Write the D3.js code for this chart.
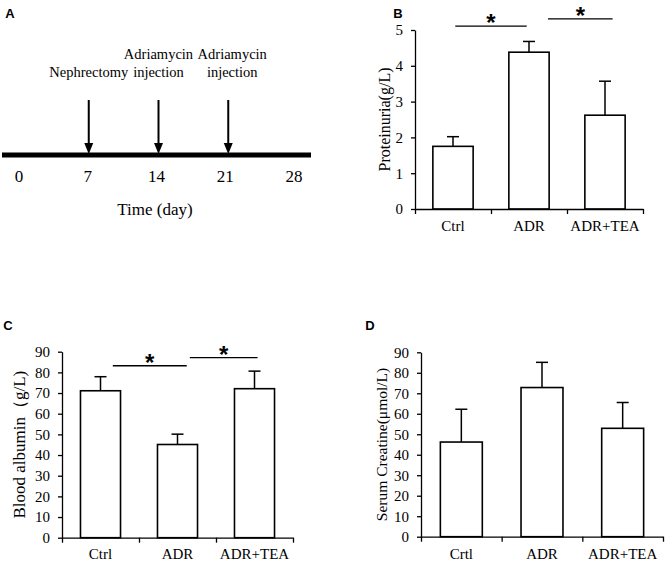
<!DOCTYPE html>
<html>
<head>
<meta charset="utf-8">
<script src="https://cdn.jsdelivr.net/npm/d3@7"></script>
<style>
  html, body { margin: 0; padding: 0; background: #fff; }
  svg { display: block; }
  text { font-family: "Liberation Serif", "Times New Roman", serif; fill: #000; }
  .panel-label { font-family: "Liberation Sans", Arial, sans-serif; font-weight: bold; font-size: 13px; }
  .star { font-family: "Liberation Sans", Arial, sans-serif; font-weight: bold; font-size: 24px; }
</style>
</head>
<body>
<svg id="chart" width="670" height="562"></svg>
<script>
// ---------------- DATA ----------------
// Panel A: timeline
const timelineDays = [0, 7, 14, 21, 28];
const eventDays = [7, 14, 21];
const eventLabels = [["Nephrectomy"], ["Adriamycin", "injection"], ["Adriamycin", "injection"]];
const timelineTitle = "Time (day)";

// Panel B: proteinuria
const categoriesB = ["Ctrl", "ADR", "ADR+TEA"];
const proteinuria = [1.75, 4.38, 2.62];
const proteinuriaErr = [0.27, 0.30, 0.95];
const ticksB = [0, 1, 2, 3, 4, 5];
const sigB = [[0.03, 0.97, 5.11], [1.25, 2.10, 5.31]]; // [fromIndex, toIndex, yValue]

// Panel C: blood albumin
const categoriesC = ["Ctrl", "ADR", "ADR+TEA"];
const albumin = [71.1, 45.1, 72.1];
const albuminErr = [6.8, 5.0, 8.5];
const ticksC = [0, 10, 20, 30, 40, 50, 60, 70, 80, 90];
const sigC = [[0.16, 1.12, 83.2], [1.16, 2.04, 87.1]];

// Panel D: serum creatine
const categoriesD = ["Crtl", "ADR", "ADR+TEA"];
const creatine = [46.2, 72.8, 52.9];
const creatineErr = [16.0, 12.3, 12.6];
const ticksD = [0, 10, 20, 30, 40, 50, 60, 70, 80, 90];

// ---------------- DRAW ----------------
const svg = d3.select("#chart");
svg.append("rect").attr("width", 670).attr("height", 562).attr("fill", "#fff");

// Panel labels
[["A", 10, 18], ["B", 398, 18], ["C", 8, 330], ["D", 370, 330]].forEach(([t, x, y]) => {
  svg.append("text").attr("class", "panel-label").attr("x", x).attr("y", y)
    .attr("text-anchor", "middle").text(t);
});

// ---- Panel A ----
(function () {
  const g = svg.append("g");
  const x = d3.scaleLinear().domain([0, 28]).range([19, 294]);
  const lineY = 155;
  g.append("line").attr("x1", 2).attr("x2", 311).attr("y1", lineY).attr("y2", lineY)
    .attr("stroke", "#000").attr("stroke-width", 5);
  g.selectAll("text.day").data(timelineDays).join("text")
    .attr("class", "day").attr("x", d => x(d)).attr("y", 182)
    .attr("text-anchor", "middle").style("font-size", "17px").text(d => d);
  g.append("text").attr("x", 155).attr("y", 215).attr("text-anchor", "middle")
    .style("font-size", "17px").text(timelineTitle);

  const arrowX = d3.scaleLinear().domain([0, 28]).range([19, 298]);
  eventDays.forEach((d, i) => {
    const cx = arrowX(d);
    g.append("line").attr("x1", cx).attr("x2", cx).attr("y1", 100).attr("y2", 146)
      .attr("stroke", "#000").attr("stroke-width", 2);
    g.append("path")
      .attr("d", `M${cx - 4.5},${143} L${cx + 4.5},${143} L${cx},${154} Z`)
      .attr("fill", "#000");
    const lines = eventLabels[i];
    const tx = cx + (i === 2 ? 4 : 0);
    lines.forEach((s, j) => {
      const baseY = 77 - (lines.length - 1 - j) * 18;
      g.append("text").attr("x", tx).attr("y", baseY).attr("text-anchor", "middle")
        .style("font-size", "14.5px").text(s);
    });
  });
})();

// ---- Bar panel helper ----
function barPanel(cfg) {
  const g = svg.append("g");
  const y = d3.scaleLinear().domain([0, cfg.max]).range([cfg.y0, cfg.y1]);
  const xb = d3.scaleBand().domain(cfg.cats).range([cfg.left, cfg.right])
    .paddingInner(cfg.pad).paddingOuter(cfg.pad / 2);
  const xl = d3.scaleLinear().domain([0, cfg.cats.length]).range([cfg.left, cfg.right]);
  const xc = d3.scaleLinear().domain([0, cfg.cats.length - 1])
    .range([xb(cfg.cats[0]) + xb.bandwidth() / 2, xb(cfg.cats[cfg.cats.length - 1]) + xb.bandwidth() / 2]);

  // bars
  g.selectAll("rect.bar").data(cfg.vals).join("rect")
    .attr("class", "bar")
    .attr("x", (d, i) => xb(cfg.cats[i]))
    .attr("y", d => y(d))
    .attr("width", xb.bandwidth())
    .attr("height", d => cfg.y0 - y(d))
    .attr("fill", "#fff").attr("stroke", "#000").attr("stroke-width", 1.6);

  // error bars (upper only)
  cfg.vals.forEach((v, i) => {
    const cx = xb(cfg.cats[i]) + xb.bandwidth() / 2;
    g.append("line").attr("x1", cx).attr("x2", cx).attr("y1", y(v)).attr("y2", y(v + cfg.errs[i]))
      .attr("stroke", "#000").attr("stroke-width", 1.5);
    g.append("line").attr("x1", cx - 6).attr("x2", cx + 6)
      .attr("y1", y(v + cfg.errs[i])).attr("y2", y(v + cfg.errs[i]))
      .attr("stroke", "#000").attr("stroke-width", 1.5);
  });

  // y axis
  const ya = g.append("g").attr("transform", `translate(${cfg.left},0)`)
    .call(d3.axisLeft(y).tickValues(cfg.ticks).tickFormat(d3.format("d"))
      .tickSize(4).tickSizeOuter(0).tickPadding(8));
  ya.selectAll("text").style("font-family", "Liberation Serif, serif").style("font-size", "15px").attr("fill", "#000");
  ya.selectAll("line, path").attr("stroke", "#000").attr("stroke-width", 1.3);

  // x axis
  const xa = g.append("g").attr("transform", `translate(0,${cfg.y0})`)
    .call(d3.axisBottom(xl).tickValues(d3.range(cfg.cats.length + 1)).tickSize(5).tickSizeOuter(0).tickFormat(""));
  xa.selectAll("line, path").attr("stroke", "#000").attr("stroke-width", 1.3);

  g.selectAll("text.cat").data(cfg.cats).join("text")
    .attr("class", "cat")
    .attr("x", d => xb(d) + xb.bandwidth() / 2)
    .attr("y", cfg.catY)
    .attr("text-anchor", "middle").style("font-size", "15px").text(d => d);

  // y label
  g.append("text")
    .attr("transform", `translate(${cfg.labelX},${(cfg.y0 + cfg.y1) / 2}) rotate(-90)`)
    .attr("text-anchor", "middle").style("font-size", cfg.labelSize).text(cfg.label);

  // significance
  (cfg.sig || []).forEach(([a, b, v]) => {
    const x1 = xc(a), x2 = xc(b), yy = y(v);
    g.append("line").attr("x1", x1).attr("x2", x2).attr("y1", yy).attr("y2", yy)
      .attr("stroke", "#000").attr("stroke-width", 1.3);
    g.append("text").attr("class", "star").attr("x", (x1 + x2) / 2).attr("y", yy + 5)
      .attr("text-anchor", "middle").text("*");
  });
}

barPanel({
  cats: categoriesB, vals: proteinuria, errs: proteinuriaErr, ticks: ticksB, max: 5,
  left: 415, right: 643, y0: 209, y1: 30, pad: 0.47, catY: 231,
  label: "Proteinuria(g/L)", labelX: 390, labelSize: "16px", sig: sigB
});
barPanel({
  cats: categoriesC, vals: albumin, errs: albuminErr, ticks: ticksC, max: 90,
  left: 62, right: 293, y0: 537.7, y1: 351.7, pad: 0.48, catY: 559,
  label: "Blood albumin（g/L)", labelX: 25, labelSize: "17px", sig: sigC
});
barPanel({
  cats: categoriesD, vals: creatine, errs: creatineErr, ticks: ticksD, max: 90,
  left: 421, right: 663, y0: 536.7, y1: 352.3, pad: 0.48, catY: 559,
  label: "Serum Creatine(μmol/L)", labelX: 387, labelSize: "15.5px", sig: []
});
</script>
</body>
</html>
